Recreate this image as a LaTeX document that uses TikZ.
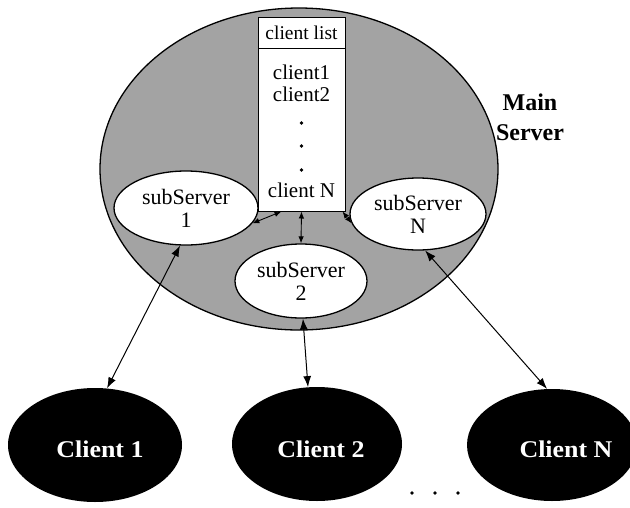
\documentclass[tikz,border=0pt]{standalone}
\usepackage{fontspec}
\setmainfont{Liberation Serif}
\usetikzlibrary{shapes.geometric,arrows.meta}
\begin{document}
\begin{tikzpicture}[x=1pt,y=-1pt,
  every node/.style={inner sep=0pt},
  oval/.style={ellipse, draw=black, line width=1.3pt},
  subsrv/.style={oval, fill=white, align=center, font=\fontsize{22}{23}\selectfont},
  clientoval/.style={ellipse, fill=black},
  clientlabel/.style={text=white, font=\bfseries\fontsize{24}{28}\selectfont\addfontfeatures{FakeStretch=1.08}},
  listtext/.style={font=\fontsize{21}{24}\selectfont},
  dotmark/.style={circle, fill=black, minimum size=3.6pt},
  link/.style={line width=1pt, {Latex[length=11pt,width=8pt]}-{Latex[length=11pt,width=8pt]}},
  shortlink/.style={line width=0.9pt, {Latex[length=7pt,width=5.5pt]}-{Latex[length=7pt,width=5.5pt]}}
]
\useasboundingbox (0,0) rectangle (630,507);

% main server body
\node[oval, fill=black!36, minimum width=398pt, minimum height=322pt] (main) at (299,169) {};

% sub servers
\node[subsrv, minimum width=144pt, minimum height=74pt] (s1) at (186,208) {subServer\\1};
\node[subsrv, minimum width=132pt, minimum height=74pt] (s2) at (301,281) {subServer\\2};
\node[subsrv, minimum width=136pt, minimum height=72pt] (sN) at (418,214) {subServer\\N};

% client list table
\node[draw, line width=1pt, fill=white, minimum width=87pt, minimum height=194pt] (list) at (301.5,114) {};
\coordinate (hl) at (258,48);
\coordinate (hr) at (345,48);
\draw[line width=0.8pt] (hl) -- (hr);
\node[font=\fontsize{19.5}{22}\selectfont] (hdr) at (301.5,33) {client list};
\node[listtext] (l1) at (301.5,72) {client1};
\node[listtext] (l2) at (301.5,94) {client2};
\node[dotmark] (ld1) at (301.5,123) {};
\node[dotmark] (ld2) at (301.5,146) {};
\node[dotmark] (ld3) at (301.5,170) {};
\node[listtext] (ln) at (301.5,190) {client N};

% label of the main server
\node[font=\bfseries\fontsize{24}{30}\selectfont, align=center] (mslabel) at (530,117) {Main\\Server};

% clients
\node[clientoval, minimum width=174pt, minimum height=114pt] (c1) at (95,445) {};
\node[clientoval, minimum width=170pt, minimum height=114pt] (c2) at (317,444) {};
\node[clientoval, minimum width=170pt, minimum height=112pt] (cN) at (552,445) {};
\node[clientlabel] (c1t) at (100,449) {Client 1};
\node[clientlabel] (c2t) at (321,449) {Client 2};
\node[clientlabel] (cNt) at (566,449) {Client N};

\node[dotmark] (cd1) at (412,493) {};
\node[dotmark] (cd2) at (435,493) {};
\node[dotmark] (cd3) at (458,493) {};

% connections
\draw[link] (s1.-99) -- (c1.78);
\draw[link] (s2.-87) -- (c2.99);
\draw[link] (sN.-79) -- (cN.95);
\draw[shortlink] ([xshift=24pt]list.south west) -- (s1.-13);
\draw[shortlink] (list.south) -- (s2.north);
\draw[shortlink, densely dotted] ([xshift=-3pt]list.south east) -- (sN.188);
\end{tikzpicture}
\end{document}
